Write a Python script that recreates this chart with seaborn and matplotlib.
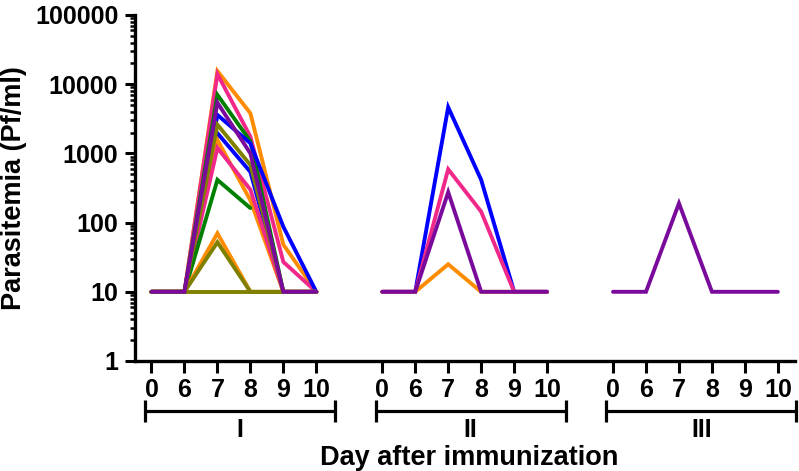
import matplotlib
matplotlib.use("Agg")
import matplotlib.pyplot as plt
import matplotlib.ticker as mticker
import seaborn as sns
import pandas as pd
import numpy as np

# Days sampled in each immunization round
days = [0, 6, 7, 8, 9, 10]
rounds = ["I", "II", "III"]

# Parasitemia (Pf/ml) per volunteer, values at the days above
# Round I
r1_orange_a = [10, 10, 15500, 3800, 48, 10]
r1_pink_a = [10, 10, 14000, 1750, 27, 10]
r1_green_a = [10, 10, 7000, 1500, 10, 10]
r1_blue_a = [10, 10, 3600, 1400, 87, 10]
r1_blue_b = [10, 10, 1960, 540, 10, 10]
r1_orange_b = [10, 10, 1560, 210, 10, 10]
r1_pink_b = [10, 10, 1200, 300, 10, 10]
r1_green_b = [10, 10, 415, 162]
r1_orange_c = [10, 10, 70, 10, 10, 10]
r1_olive_a = [10, 10, 2600, 680, 10, 10]
r1_olive_b = [10, 10, 52, 10, 10, 10]
r1_olive_c = [10, 10, 10, 10, 10, 10]
r1_purple_a = [10, 10, 5400, 1000, 10, 10]
# Round II
r2_blue = [10, 10, 4650, 415, 10, 10]
r2_pink = [10, 10, 590, 144, 10, 10]
r2_orange = [10, 10, 25, 10, 10, 10]
r2_purple = [10, 10, 275, 10, 10, 10]
# Round III
r3_purple = [10, 10, 190, 10, 10, 10]

ORANGE, PINK, GREEN = "#FF8C00", "#F0288A", "#008000"
BLUE, OLIVE, PURPLE = "#0000FF", "#808000", "#7A0A9C"

series = [
    ("I", "o1a", r1_orange_a, ORANGE), ("I", "p1a", r1_pink_a, PINK),
    ("I", "g1a", r1_green_a, GREEN), ("I", "b1a", r1_blue_a, BLUE),
    ("I", "b1b", r1_blue_b, BLUE), ("I", "o1b", r1_orange_b, ORANGE),
    ("I", "p1b", r1_pink_b, PINK), ("I", "g1b", r1_green_b, GREEN),
    ("I", "o1c", r1_orange_c, ORANGE), ("I", "v1a", r1_olive_a, OLIVE),
    ("I", "v1b", r1_olive_b, OLIVE), ("I", "v1c", r1_olive_c, OLIVE),
    ("I", "u1a", r1_purple_a, PURPLE),
    ("II", "b2", r2_blue, BLUE), ("II", "p2", r2_pink, PINK),
    ("II", "o2", r2_orange, ORANGE), ("II", "u2", r2_purple, PURPLE),
    ("III", "u3", r3_purple, PURPLE),
]

rows = []
for rnd, sid, vals, col in series:
    g = rounds.index(rnd)
    for k, v in enumerate(vals):
        rows.append({"round": rnd, "subject": sid, "pos": g * 7 + k,
                     "day": days[k], "value": v})
df = pd.DataFrame(rows)
palette = {sid: col for _, sid, _, col in series}

sns.set_style("ticks")
plt.rcParams['font.family'] = ['Liberation Sans', 'DejaVu Sans']
plt.rcParams['font.weight'] = 'bold'
plt.rcParams['text.color'] = 'black'
plt.rcParams['axes.labelcolor'] = 'black'

fig = plt.figure(figsize=(7.99, 4.71), dpi=100)
ax = fig.add_axes([135 / 799, 1 - 361 / 471, 660 / 799, 346 / 471])

sns.lineplot(data=df, x="pos", y="value", hue="subject", palette=palette,
             hue_order=[s[1] for s in series], units="subject", estimator=None,
             sort=False, lw=2.8, legend=False, ax=ax,
             solid_joinstyle="miter", solid_capstyle="round")

ax.set_yscale("log")
ax.set_ylim(1, 100000)
ax.set_xlim(-0.5, 19.52)
ax.yaxis.set_major_locator(mticker.FixedLocator([1, 10, 100, 1000, 10000, 100000]))
ax.yaxis.set_major_formatter(mticker.FuncFormatter(lambda v, p: f"{int(round(v))}"))
ax.yaxis.set_minor_locator(mticker.LogLocator(base=10, subs=np.arange(2, 10)))
ax.yaxis.set_minor_formatter(mticker.NullFormatter())

positions = [g * 7 + k for g in range(3) for k in range(len(days))]
ax.set_xticks(positions)
ax.set_xticklabels([str(d) for _ in rounds for d in days])

for s in ["top", "right"]:
    ax.spines[s].set_visible(False)
for s in ["left", "bottom"]:
    ax.spines[s].set_linewidth(2.4)
    ax.spines[s].set_color("black")

ax.tick_params(axis="x", which="major", length=8.5, width=2.2, pad=3.5,
               labelsize=18, colors="black")
ax.tick_params(axis="y", which="major", length=7, width=2.2, pad=5,
               labelsize=18, colors="black")
ax.tick_params(axis="y", which="minor", length=3.6, width=1.8, color="black")
for lab in ax.get_xticklabels() + ax.get_yticklabels():
    lab.set_fontweight("bold")

ax.set_xlabel("")
ax.set_ylabel("Parasitemia (Pf/ml)", fontsize=19.5, fontweight="bold",
              color="black")
ax.yaxis.set_label_coords(-0.164, 0.5)

# Brackets grouping the immunization rounds
trans = ax.get_xaxis_transform()
for g, rnd in enumerate(rounds):
    x0 = g * 7 - 0.2
    x1 = g * 7 + len(days) - 1 + 0.56
    ax.plot([x0, x1], [-0.1445, -0.1445], transform=trans, color="black",
            lw=2.3, clip_on=False, solid_capstyle="butt")
    for xe in (x0, x1):
        ax.plot([xe, xe], [-0.113, -0.176], transform=trans, color="black",
                lw=2.3, clip_on=False, solid_capstyle="butt")
    ax.text((x0 + x1) / 2, -0.199, rnd, transform=trans, ha="center",
            va="center", fontsize=18, fontweight="bold", color="black")

ax.text(0.506, -0.28, "Day after immunization", transform=ax.transAxes,
        ha="center", va="center", fontsize=19.5, fontweight="bold",
        color="black")

fig.savefig("out.png", dpi=100)
